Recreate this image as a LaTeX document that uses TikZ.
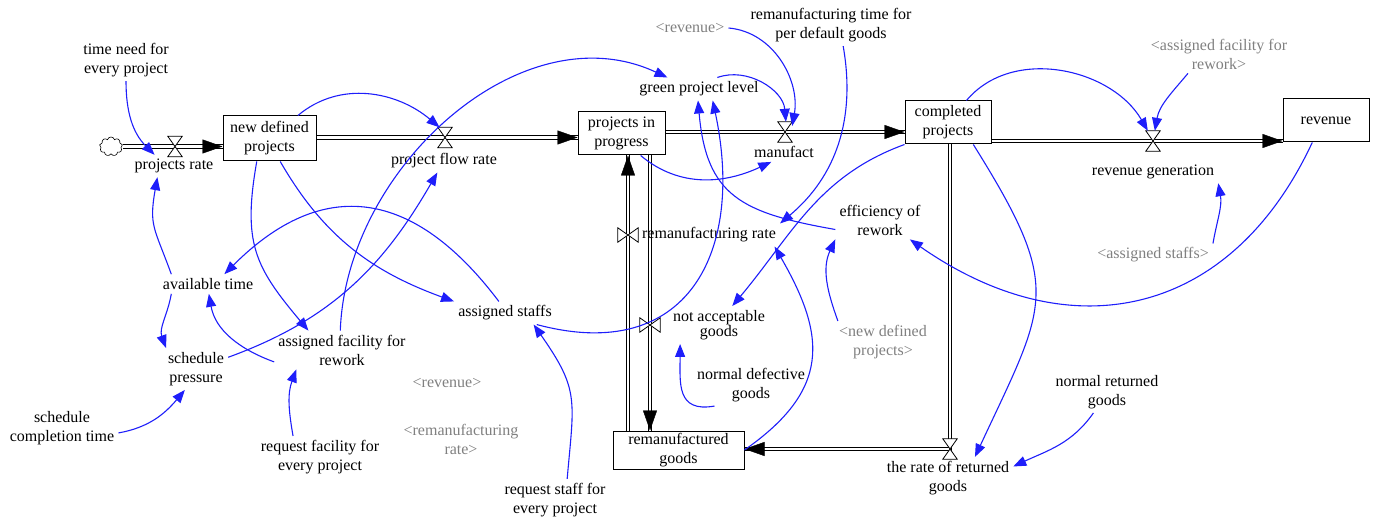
\documentclass[tikz,border=0pt]{standalone}
\usepackage{fontspec}
\setmainfont{Liberation Serif}
\definecolor{linkBlue}{RGB}{30, 30, 250}
\definecolor{shadowGray}{RGB}{128, 128, 128}
\usepackage{tikz}
\usetikzlibrary{shapes.symbols, arrows.meta, calc}

\begin{document}
\begin{tikzpicture}[x=1pt, y=1pt,
    every node/.style={font=\fontsize{16}{19}\selectfont},
    stock/.style={draw, line width=1pt, fill=white, align=center, inner sep=0pt},
    aux/.style={align=center, inner sep=4pt},
    shadowVar/.style={aux, text=shadowGray},
    valveH/.style={minimum width=14pt, minimum height=20pt, inner sep=0pt},
    valveV/.style={minimum width=20pt, minimum height=14pt, inner sep=0pt},
    pipe/.style={draw, double, double distance=2.8pt, line width=1pt},
    pipeTip/.style={draw=white, line width=0.4pt, -{Triangle[length=20pt, width=14pt, black]}},
    valveShape/.style={draw, fill=white, line width=0.8pt},
    link/.style={draw=linkBlue, line width=1.1pt, -{Triangle[length=13pt, width=10pt]}}]
  \useasboundingbox (0,0) rectangle (1378,523);

  % stocks
  \node[stock, minimum width=93pt, minimum height=45pt] (newDef) at (269.5,384.5) {new defined\\projects};
  \node[stock, minimum width=87pt, minimum height=43pt] (inProg) at (621.5,389.5) {projects in\\progress};
  \node[stock, minimum width=86pt, minimum height=43pt] (compl) at (948,400.5) {completed\\projects};
  \node[stock, minimum width=86pt, minimum height=43pt] (revenue) at (1326,402.5) {revenue};
  \node[stock, minimum width=131pt, minimum height=38pt] (reman) at (678.5,73) {remanufactured\\goods};
  \node[cloud, draw, cloud puffs=9, aspect=1.2, minimum width=23pt, minimum height=19pt, inner sep=0pt, line width=0.6pt] (source) at (111,376.5) {};

  % valves
  \node[valveH] (vProj) at (175,376.5) {};
  \node[valveH] (vFlow) at (445,385.5) {};
  \node[valveH] (vManu) at (785,391) {};
  \node[valveH] (vRevGen) at (1153,382) {};
  \node[valveH] (vReturn) at (950,74) {};
  \node[valveV] (vRemanu) at (628,288) {};
  \node[valveV] (vNotAcc) at (650,198) {};

  % pipes
  \draw[pipe] (vProj -| source.east) -- (vProj -| newDef.west);
  \draw[pipe] (vFlow -| newDef.east) -- (vFlow -| inProg.west);
  \draw[pipe] (vManu -| inProg.east) -- (vManu -| compl.west);
  \draw[pipe] (vRevGen -| compl.east) -- (vRevGen -| revenue.west);
  \draw[pipe] (vReturn |- compl.south) -- (vReturn.center) -- (vReturn -| reman.east);
  \draw[pipe] (vRemanu |- reman.north) -- (vRemanu |- inProg.south);
  \draw[pipe] (vNotAcc |- inProg.south) -- (vNotAcc |- reman.north);
  \draw[pipeTip] (vProj) -- (vProj -| newDef.west);
  \draw[pipeTip] (vFlow) -- (vFlow -| inProg.west);
  \draw[pipeTip] (vManu) -- (vManu -| compl.west);
  \draw[pipeTip] (vRevGen) -- (vRevGen -| revenue.west);
  \draw[pipeTip] (vReturn) -- (vReturn -| reman.east);
  \draw[pipeTip] (vRemanu) -- (vRemanu |- inProg.south);
  \draw[pipeTip] (vNotAcc) -- (vNotAcc |- reman.north);

  \foreach \v in {vProj, vFlow, vManu, vRevGen, vReturn}
    \draw[valveShape] (\v.north west) -- (\v.north east) -- (\v.south west) -- (\v.south east) -- cycle;
  \foreach \v in {vRemanu, vNotAcc}
    \draw[valveShape] (\v.north west) -- (\v.south west) -- (\v.north east) -- (\v.south east) -- cycle;

  % flow labels
  \node[aux] (projRate) at (174,357) {projects rate};
  \node[aux] (flowRate) at (444,362) {project flow rate};
  \node[aux] (manuf) at (784,371) {manufact};
  \node[aux] (revGen) at (1153,351) {revenue generation};
  \node[aux] (retRate) at (948,45) {the rate of returned\\goods};
  \node[aux] (remRate) at (709,288) {remanufacturing rate};
  \node[aux, font=\fontsize{16}{15}\selectfont] (notAcc) at (719,198) {not acceptable\\goods};

  % auxiliaries
  \node[aux] (timeNeed) at (126,463) {time need for\\every project};
  \node[aux] (avail) at (208,239) {available time};
  \node[aux] (schedPress) at (196,154) {schedule\\pressure};
  \node[aux] (schedComp) at (62,95) {schedule\\completion time};
  \node[aux] (assFac) at (342,173) {assigned facility for\\rework};
  \node[aux] (reqFac) at (320,66) {request facility for\\every project};
  \node[aux] (assStaff) at (505,210) {assigned staffs};
  \node[aux] (reqStaff) at (555,23) {request staff for\\every project};
  \node[aux] (normDef) at (751,138) {normal defective\\goods};
  \node[aux] (effRew) at (880,303) {efficiency of\\rework};
  \node[aux] (normRet) at (1107,131) {normal returned\\goods};
  \node[aux] (green) at (699,434) {green project level};
  \node[aux] (remTime) at (831,498) {remanufacturing time for\\per default goods};

  % shadow variables
  \node[shadowVar] (shRevA) at (447,140) {<revenue>};
  \node[shadowVar] (shRemRate) at (461,84) {<remanufacturing\\rate>};
  \node[shadowVar] (shNew) at (883,181) {<new defined\\projects>};
  \node[shadowVar] (shStaff) at (1153,268) {<assigned staffs>};
  \node[shadowVar] (shFac) at (1219,469) {<assigned facility for\\rework>};
  \node[shadowVar] (shRevB) at (690,495) {<revenue>};

  % links
  \draw[link] (timeNeed.south) to[out=-90, in=135] (projRate.150);
  \draw[link] (avail.165) to[out=110, in=-100, looseness=1.3] (projRate.-146);
  \draw[link] (avail.-165) to[out=-100, in=110] (schedPress.145);
  \draw[link] (schedComp.-5) to[out=10, in=-130] (schedPress.-118);
  \draw[link] (schedPress.20) to[out=20, in=-120] (flowRate.-120);
  \draw[link] (assFac.-170) to[out=160, in=-80] (avail.-85);
  \draw[link] (reqFac.142) to[out=100, in=-110] (assFac.-157);
  \draw[link] (newDef.-119) to[out=-100, in=130, looseness=1.2] (assFac.150);
  \draw[link] (newDef.-65) to[out=-60, in=160] (assStaff.north west);
  \draw[link] (newDef.39) to[out=40, in=140] (vFlow.118);
  \draw[link] (assFac.95) to[out=88, in=155] (green.160);
  \draw[link] (assStaff.118) to[out=127, in=45, looseness=1.3] (avail.31);
  \draw[link] (reqStaff.60) to[out=85, in=-55, looseness=1.3] (assStaff.-22);
  \draw[link] (assStaff.-20) to[out=-15, in=-78, looseness=1.4] (green.-40);
  \draw[link] (green.32) to[out=20, in=95] (vManu.85);
  \draw[link] (shRevB.east) to[out=-5, in=80] (vManu.40);
  \draw[link] (remTime.-60) to[out=-80, in=40] (remRate.north east);
  \draw[link] (inProg.-49) to[out=-40, in=-155] (manuf.-142);
  \draw[link] (effRew.-168) to[out=170, in=-85, looseness=1.3] (green.-95);
  \draw[link] (compl.south west) to[out=200, in=50] (notAcc.55);
  \draw[link] (reman.east) to[out=35, in=-60, looseness=1.3] (remRate.-10);
  \draw[link] (normDef.-150) to[out=190, in=-90, looseness=1.4] (notAcc.-154);
  \draw[link] (shNew.155) to[out=110, in=-115] (effRew.south west);
  \draw[link] (revenue.-122) to[out=-115, in=-35, looseness=1.2] (effRew.-33);
  \draw[link] (shStaff.north east) to[out=80, in=-80] (revGen.south east);
  \draw[link] (compl.50) to[out=50, in=120] (vRevGen.117);
  \draw[link] (shFac.-148) to[out=-130, in=80] (vRevGen.80);
  \draw[link] (compl.-41) to[out=-58, in=65, looseness=1.4] (retRate.38);
  \draw[link] (normRet.-123) to[out=-125, in=25] (retRate.10);
\end{tikzpicture}
\end{document}
